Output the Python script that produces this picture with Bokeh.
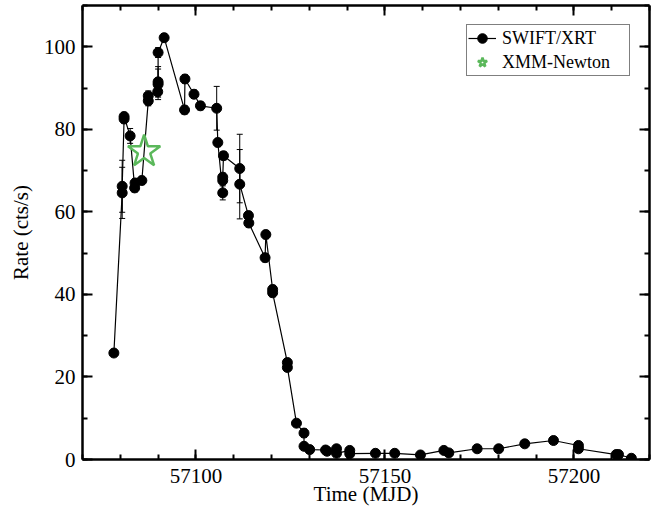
from bokeh.plotting import figure
from bokeh.models import (LinearAxis, SingleIntervalTicker, Range1d, ColumnDataSource,
                          Whisker, TeeHead, Legend, LegendItem, CustomJSTickFormatter)
from bokeh.embed import file_html
from bokeh.resources import INLINE

# ---------------- data ----------------
swift_t = [57078.3, 57080.5, 57080.5, 57081.0, 57081.0, 57082.6, 57083.8, 57083.9, 57085.7,
           57087.4, 57087.4, 57089.9, 57090.0, 57090.0, 57090.0, 57091.6, 57097.0, 57097.1,
           57099.5, 57101.2, 57105.5, 57105.8, 57107.1, 57107.1, 57107.1, 57107.3, 57111.6,
           57111.6, 57113.9, 57114.0, 57118.3, 57118.5, 57120.3, 57120.3, 57124.2, 57124.2,
           57126.6, 57128.6, 57128.6, 57130.1, 57134.3, 57134.7, 57137.2, 57137.2, 57140.7,
           57140.7, 57147.5, 57152.6, 57159.4, 57165.6, 57166.9, 57174.4, 57180.1, 57187.0,
           57194.6, 57201.2, 57201.2, 57211.2, 57211.8, 57215.2]
swift_rate = [25.8, 64.6, 66.2, 82.5, 83.1, 78.4, 65.8, 67.0, 67.6,
              86.9, 88.1, 89.1, 90.9, 91.5, 98.6, 102.2, 84.7, 92.2,
              88.5, 85.7, 85.1, 76.8, 64.6, 67.6, 68.4, 73.6, 70.5,
              66.7, 59.1, 57.3, 48.9, 54.5, 41.2, 40.4, 23.5, 22.3,
              8.8, 6.4, 3.2, 2.4, 2.3, 2.0, 2.6, 1.5, 2.2,
              1.4, 1.5, 1.5, 1.1, 2.2, 1.6, 2.6, 2.6, 3.8,
              4.6, 3.4, 2.6, 1.2, 1.2, 0.3]
swift_err = [0.8, 6.2, 6.3, 1.0, 1.0, 1.8, 1.0, 1.0, 1.0,
             1.2, 1.2, 1.0, 3.7, 3.7, 1.2, 1.0, 1.0, 1.0,
             1.0, 1.0, 5.3, 1.0, 1.7, 1.0, 1.0, 1.0, 8.3,
             8.4, 1.0, 1.0, 1.0, 1.0, 1.0, 1.0, 0.8, 0.8,
             0.5, 1.0, 0.4, 0.3, 0.3, 0.3, 0.3, 0.3, 0.3,
             0.3, 0.3, 0.3, 0.3, 0.3, 0.3, 0.3, 0.3, 0.3,
             0.3, 0.3, 0.3, 0.3, 0.3, 0.2]
xmm_t = [57086.3]
xmm_rate = [74.6]

x_ticks_interval = 50
y_ticks_interval = 20

FONT = "Liberation Serif"
GREEN = "#5BB85B"

p = figure(width=665, height=510, output_backend="svg", toolbar_location=None,
           x_range=Range1d(57070, 57220), y_range=Range1d(0, 110),
           x_axis_location=None, y_axis_location=None,
           min_border_left=82, min_border_right=16, min_border_top=5, min_border_bottom=51,
           background_fill_color="white", border_fill_color="white")
p.outline_line_color = None
p.grid.visible = False


def make_axis(interval, minors, labels=True, label_text=None):
    ax = LinearAxis(ticker=SingleIntervalTicker(interval=interval, num_minor_ticks=minors),
                    axis_line_width=2.5, axis_line_color="black",
                    major_tick_in=10, major_tick_out=0, major_tick_line_width=2,
                    minor_tick_in=5, minor_tick_out=0, minor_tick_line_width=2,
                    major_label_text_font=FONT, major_label_text_font_size="21px",
                    major_label_text_color="black")
    if labels:
        ax.major_label_standoff = 7
        if label_text:
            ax.axis_label = label_text
            ax.axis_label_text_font = FONT
            ax.axis_label_text_font_size = "21px"
            ax.axis_label_text_font_style = "normal"
            ax.axis_label_text_color = "black"
    else:
        ax.formatter = CustomJSTickFormatter(code="return ''")
        ax.major_label_standoff = 0
        ax.major_label_text_font_size = "0px"
    return ax


bottom = make_axis(x_ticks_interval, 5, True, "Time (MJD)")
bottom.major_label_standoff = 9
bottom.axis_label_standoff = -4
left = make_axis(y_ticks_interval, 2, True, "Rate (cts/s)")
left.axis_label_standoff = 8
top = make_axis(x_ticks_interval, 5, False)
right = make_axis(y_ticks_interval, 2, False)
p.add_layout(bottom, "below")
p.add_layout(left, "left")
p.add_layout(top, "above")
p.add_layout(right, "right")

src = ColumnDataSource(dict(
    t=swift_t, r=swift_rate,
    lo=[v - e for v, e in zip(swift_rate, swift_err)],
    hi=[v + e for v, e in zip(swift_rate, swift_err)],
))

ln = p.line("t", "r", source=src, line_color="black", line_width=1.2)
wh = Whisker(source=src, base="t", upper="hi", lower="lo", dimension="height",
             line_color="black", line_width=1,
             upper_head=TeeHead(size=6, line_color="black", line_width=1),
             lower_head=TeeHead(size=6, line_color="black", line_width=1))
p.add_layout(wh)
sc = p.scatter("t", "r", source=src, marker="circle", size=10,
               fill_color="black", line_color="black")
st = p.scatter(x=xmm_t, y=xmm_rate, marker="star", size=34,
               fill_color=None, line_color=GREEN, line_width=2.5)

legend = Legend(items=[LegendItem(label="SWIFT/XRT", renderers=[ln, sc]),
                       LegendItem(label="XMM-Newton", renderers=[st])],
                location="top_right", margin=19, padding=1, spacing=0,
                glyph_width=28, glyph_height=24, label_height=24, label_standoff=6,
                label_width=126,
                label_text_font=FONT, label_text_font_size="18px",
                label_text_color="black",
                border_line_color="black", border_line_width=1,
                background_fill_color="white", background_fill_alpha=1)
p.add_layout(legend)

open("out.html", "w").write(file_html(p, INLINE))
